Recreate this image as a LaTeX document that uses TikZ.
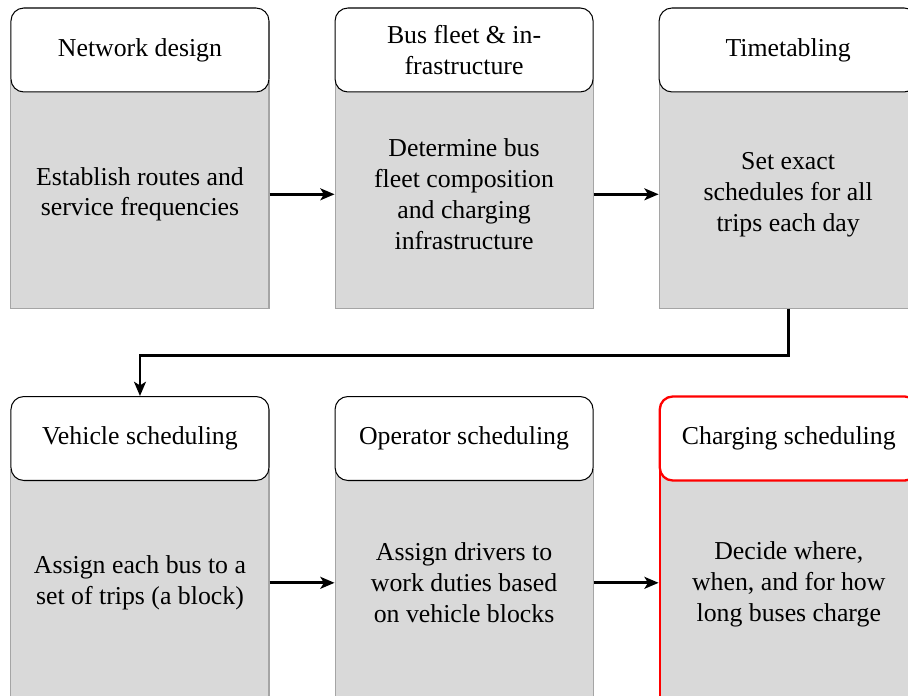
\documentclass[tikz,border=0pt]{standalone}
\usepackage{fontspec}
\setmainfont{Liberation Serif}
\usepackage{tikz}
\usetikzlibrary{backgrounds}
\usetikzlibrary{positioning}
\usetikzlibrary{arrows.meta}
\definecolor{boxgray}{RGB}{217,217,217}
\definecolor{edgegray}{RGB}{165,165,165}

\begin{document}
\begin{tikzpicture}[
            > = {Stealth[length=5.5pt, width=4.6pt, inset=1.4pt]}, % arrow head style
            node distance = 0.886cm, % gap between boxes
            line width = 1.1pt % line style
        ]

        \tikzstyle{head}=[
            draw = black,
            line width = 0.4pt,
            fill = white,
            rounded corners = 5pt,
            minimum width = 3.515cm,
            minimum height = 1.144cm,
            align = center
        ]
        \tikzstyle{body}=[
            draw = edgegray,
            line width = 0.4pt,
            fill = boxgray,
            minimum width = 3.515cm,
            minimum height = 3.1cm,
            align = center
        ]
        \tikzstyle{flow}=[->, line width = 1.1pt]

        \useasboundingbox (0,0) rectangle (12.37,-9.47);

        % planning stages
        \node[head] (N) at (1.907,-0.681) {Network design};
        \node[head] (B) [right=of N] {Bus fleet \& in-\\frastructure};
        \node[head] (T) [right=of B] {Timetabling};

        % operational stages
        \node[head] (V) at (1.907,-5.974) {Vehicle scheduling};
        \node[head] (O) [right=of V] {Operator scheduling};
        \node[head, draw = red, line width = 0.9pt] (C) [right=of O] {Charging scheduling};

        % bodies run up behind the headers
        \begin{scope}[on background layer]
        \node[body] (Nb) [below=-0.17cm of N] {Establish routes and\\service frequencies};
        \node[body] (Bb) [below=-0.17cm of B] {Determine bus\\fleet composition\\and charging\\infrastructure};
        \node[body] (Tb) [below=-0.17cm of T] {Set exact\\schedules for all\\trips each day};
        \node[body] (Vb) [below=-0.17cm of V] {Assign each bus to a\\set of trips (a block)};
        \node[body] (Ob) [below=-0.17cm of O] {Assign drivers to\\work duties based\\on vehicle blocks};
        \node[body, draw = red, line width = 0.9pt] (Cb) [below=-0.17cm of C] {Decide where,\\when, and for how\\long buses charge};
        \end{scope}

        \coordinate (turn) at (0,-4.84);

        \draw[flow] (Nb) -- (Bb);
        \draw[flow] (Bb) -- (Tb);
        \draw[flow] (Tb.south) -- (Tb.south |- turn) -| (V.north);
        \draw[flow] (Vb) -- (Ob);
        \draw[flow] (Ob.east) -- (Ob.east -| Cb.west);

\end{tikzpicture}
\end{document}
